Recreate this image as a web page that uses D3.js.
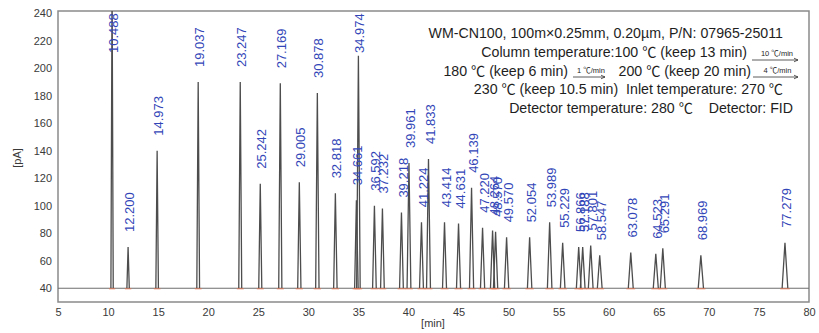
<!DOCTYPE html>
<html>
<head>
<meta charset="utf-8">
<script src="https://cdn.jsdelivr.net/npm/d3@7/dist/d3.min.js"></script>
<style>
body { margin: 0; background: #fff; }
svg { display: block; font-family: "Liberation Sans", Arial, "Noto Sans CJK SC", sans-serif; }
.axis text { fill: #3a3a3a; font-size: 11px; }
</style>
</head>
<body>
<svg width="819" height="333"></svg>
<script>
// retention times as printed above the peaks
var peakLabels = ["10.488","12.200","14.973","19.037","23.247","25.242","27.169","29.005",
  "30.878","32.818","34.661","34.974","36.592","37.232","39.218","39.961","41.224","41.833",
  "43.414","44.631","46.139","47.220","48.264","48.570","49.570","52.054","53.989","55.229",
  "56.866","57.188","57.801","58.547","63.078","64.523","65.291","68.969","77.279"];
// where the apex sits on the time axis [min]
var peakTimes = [10.4,12.0,14.9,19.0,23.2,25.2,27.2,29.1,30.9,32.7,34.8,35.0,36.6,37.4,39.3,
  40.05,41.3,42.0,43.6,45.0,46.3,47.4,48.4,48.7,49.8,52.1,54.1,55.4,57.0,57.4,58.2,59.1,
  62.2,64.7,65.4,69.2,77.6];
// apex height [pA]
var peakHeights = [262,70,140,190,190,116,189,117,182,109,104,209,100,98,95,131,88,134,
  88,87,113,84,82,81,77,77,88,73,70,70,71,64,66,65,69,64,73];
var baseLevel = 40;

var xTicks = [5,10,15,20,25,30,35,40,45,50,55,60,65,70,75,80];
var yTicks = [40,60,80,100,120,140,160,180,200,220,240];

var svg = d3.select("svg"),
    m = {left: 58, right: 809, top: 11, bottom: 302};

var x = d3.scaleLinear().domain([5, 80]).range([m.left, m.right]);
var y = d3.scaleLinear().domain([30, 241.6]).range([m.bottom, m.top]);

svg.append("clipPath").attr("id", "plot")
  .append("rect").attr("x", m.left).attr("y", m.top)
  .attr("width", m.right - m.left).attr("height", m.bottom - m.top);

// axes (labels only, the frame is drawn separately)
svg.append("g").attr("class", "axis")
    .attr("transform", "translate(" + (m.left - 4) + ",0)")
    .call(d3.axisLeft(y).tickValues(yTicks).tickSize(0).tickPadding(2))
    .select(".domain").remove();

svg.append("g").attr("class", "axis")
    .attr("transform", "translate(0," + (m.bottom + 4) + ")")
    .call(d3.axisBottom(x).tickValues(xTicks).tickSize(0).tickPadding(2))
    .select(".domain").remove();

svg.append("text").attr("transform", "translate(21,158) rotate(-90)")
  .attr("text-anchor", "middle").attr("font-size", "11px").attr("fill", "#3a3a3a").text("[pA]");
svg.append("text").attr("x", 433).attr("y", 327)
  .attr("text-anchor", "middle").attr("font-size", "11px").attr("fill", "#3a3a3a").text("[min]");

// frame
svg.append("rect").attr("x", m.left).attr("y", m.top)
  .attr("width", m.right - m.left).attr("height", m.bottom - m.top)
  .attr("fill", "none").attr("stroke", "#8a8a8a").attr("stroke-width", 1.5);

var peaks = peakTimes.map(function(t, i) {
  return {t: t, h: peakHeights[i], label: peakLabels[i], hw: 0.9 + t * 0.025};
});

var plot = svg.append("g").attr("clip-path", "url(#plot)");

// baseline
plot.append("line")
  .attr("x1", m.left).attr("x2", m.right)
  .attr("y1", y(baseLevel)).attr("y2", y(baseLevel))
  .attr("stroke", "#6e6e6e").attr("stroke-width", 1.2);

var tri = d3.line();
plot.selectAll("path.peak").data(peaks).enter().append("path")
  .attr("class", "peak")
  .attr("d", function(d) {
    var px = x(d.t);
    return tri([[px - d.hw, y(baseLevel)], [px, y(d.h)], [px + d.hw, y(baseLevel)]]);
  })
  .attr("fill", "none").attr("stroke", "#4d4d4d").attr("stroke-width", 1.3);

// integration marks at the peak feet
plot.selectAll("line.mark").data(peaks).enter().append("line")
  .attr("class", "mark")
  .attr("x1", function(d) { return x(d.t) - d.hw - 2; })
  .attr("x2", function(d) { return x(d.t) + d.hw + 2; })
  .attr("y1", y(baseLevel) + 0.5).attr("y2", y(baseLevel) + 0.5)
  .attr("stroke", "#e8704a").attr("stroke-width", 1.2).attr("opacity", 0.7);

// retention time labels
svg.selectAll("text.rt").data(peaks).enter().append("text")
  .attr("class", "rt")
  .attr("transform", function(d) {
    var yt = y(Math.min(d.h, 241.6));
    var yb = Math.max(yt - 15, 53);
    return "translate(" + (x(d.t) + 1.5) + "," + yb + ") rotate(-90)";
  })
  .attr("dy", "0.35em")
  .attr("font-size", "13px")
  .attr("fill", "#3246b8")
  .text(function(d) { return d.label; });

// method note
var note = svg.append("g").attr("font-size", "14.2px").attr("fill", "#1e1e1e")
  .attr("xml:space", "preserve");
note.append("text").attr("x", 783).attr("y", 38).attr("text-anchor", "end")
  .text("WM-CN100, 100m×0.25mm, 0.20µm, P/N: 07965-25011");
note.append("text").attr("x", 747).attr("y", 57).attr("text-anchor", "end")
  .text("Column temperature:100 ℃ (keep 13 min)");
note.append("text").attr("x", 568).attr("y", 76).attr("text-anchor", "end")
  .text("180 ℃ (keep 6 min)");
note.append("text").attr("x", 751).attr("y", 76).attr("text-anchor", "end")
  .text("200 ℃ (keep 20 min)");
note.append("text").attr("x", 783).attr("y", 94).attr("text-anchor", "end")
  .text("230 ℃ (keep 10.5 min)\u00a0\u00a0Inlet temperature: 270 ℃");
note.append("text").attr("x", 793).attr("y", 113).attr("text-anchor", "end")
  .text("Detector temperature: 280 ℃\u00a0\u00a0\u00a0\u00a0Detector: FID");

var arrows = [
  {x1: 752, x2: 798, y: 60, rate: "10 ℃/min"},
  {x1: 573, x2: 605, y: 77, rate: "1 ℃/min"},
  {x1: 753, x2: 798, y: 77, rate: "4 ℃/min"}
];
arrows.forEach(function(a) {
  note.append("line").attr("x1", a.x1).attr("x2", a.x2).attr("y1", a.y).attr("y2", a.y)
    .attr("stroke", "#333").attr("stroke-width", 0.8);
  note.append("path")
    .attr("d", "M" + (a.x2 - 4) + "," + (a.y - 1.8) + "L" + a.x2 + "," + a.y + "L" + (a.x2 - 4) + "," + (a.y + 1.8))
    .attr("fill", "none").attr("stroke", "#333").attr("stroke-width", 0.8);
  note.append("text").attr("x", (a.x1 + a.x2) / 2 + 2).attr("y", a.y - 4)
    .attr("text-anchor", "middle").attr("font-size", "7.5px").text(a.rate);
});
</script>
</body>
</html>
